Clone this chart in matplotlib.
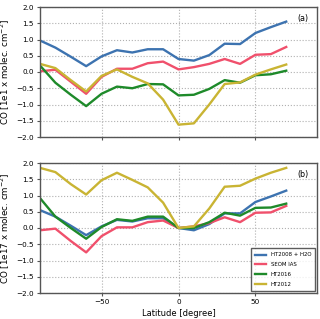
import matplotlib
matplotlib.use('Agg')
import matplotlib.pyplot as plt
import numpy as np

lat = np.arange(-90, 71, 10)

labels = ['HT2008 + H2O', 'SEOM IAS', 'HT2016', 'HT2012']
colors = ['#3d73b0', '#f0506c', '#1e8a2a', '#c9b433']

# panel (a)
a_ht2008 = [0.97, 0.75, 0.47, 0.18, 0.48, 0.67, 0.60, 0.70, 0.70, 0.40, 0.35, 0.52, 0.87, 0.86, 1.20, 1.38, 1.55]
a_seom = [0.02, 0.07, -0.30, -0.67, -0.15, 0.10, 0.10, 0.27, 0.32, 0.08, 0.15, 0.25, 0.40, 0.25, 0.53, 0.55, 0.77]
a_ht2016 = [0.20, -0.33, -0.70, -1.05, -0.67, -0.45, -0.50, -0.37, -0.38, -0.72, -0.70, -0.52, -0.25, -0.33, -0.10, -0.07, 0.04]
a_ht2012 = [0.25, 0.12, -0.25, -0.60, -0.12, 0.08, -0.15, -0.35, -0.85, -1.62, -1.58, -1.00, -0.37, -0.32, -0.08, 0.08, 0.23]

# panel (b)
b_ht2008 = [0.55, 0.35, 0.07, -0.22, 0.05, 0.25, 0.20, 0.30, 0.30, 0.00, -0.07, 0.12, 0.45, 0.45, 0.80, 0.97, 1.15]
b_seom = [-0.07, -0.02, -0.40, -0.75, -0.25, 0.02, 0.02, 0.18, 0.23, 0.00, 0.05, 0.15, 0.33, 0.18, 0.47, 0.48, 0.68]
b_ht2016 = [0.92, 0.35, 0.00, -0.33, 0.03, 0.27, 0.22, 0.35, 0.35, 0.00, 0.00, 0.18, 0.47, 0.38, 0.62, 0.63, 0.75]
b_ht2012 = [1.85, 1.72, 1.35, 1.03, 1.47, 1.70, 1.48, 1.25, 0.78, 0.00, 0.05, 0.60, 1.27, 1.30, 1.52, 1.70, 1.85]

panels = [
    ('(a)', 'CO [1e1 x molec. cm$^{-2}$]', [a_ht2008, a_seom, a_ht2016, a_ht2012]),
    ('(b)', 'CO [1e17 x molec. cm$^{-2}$]', [b_ht2008, b_seom, b_ht2016, b_ht2012]),
]

fig = plt.figure(figsize=(3.2, 3.19), dpi=100)
axes = [fig.add_axes([40 / 320, 1 - 137 / 319, 277 / 320, 130 / 319]),
        fig.add_axes([40 / 320, 1 - 293 / 319, 277 / 320, 130 / 319])]

for ax, (tag, ylabel, series) in zip(axes, panels):
    for vals, lab, col in zip(series, labels, colors):
        ax.plot(lat, vals, color=col, lw=1.7, label=lab)
    ax.set_xlim(-90, 90)
    ax.set_ylim(-2.0, 2.0)
    ax.set_yticks(np.arange(-2.0, 2.01, 0.5))
    ax.set_xticks([-50, 0, 50])
    ax.grid(True, linestyle=':', color='#b0b0b0', lw=0.8)
    ax.set_ylabel(ylabel, fontsize=6.3, labelpad=3)
    ax.text(0.97, 0.915, tag, transform=ax.transAxes, ha='right', va='center', fontsize=5.8)
    ax.tick_params(labelsize=5.2, length=2.5, pad=2, color='#555555')
    for s in ax.spines.values():
        s.set_linewidth(1.0)
        s.set_color('#555555')

axes[0].tick_params(labelbottom=False)
axes[1].set_xlabel('Latitude [degree]', fontsize=6, labelpad=2.5)
leg = axes[1].legend(loc='lower right', fontsize=3.9, frameon=True, fancybox=False,
                     edgecolor='#333333', handlelength=2.0, borderpad=0.8, labelspacing=0.9,
                     borderaxespad=0.3, handletextpad=0.9)
leg.get_frame().set_linewidth(1.0)

fig.savefig('out.png', dpi=100)
